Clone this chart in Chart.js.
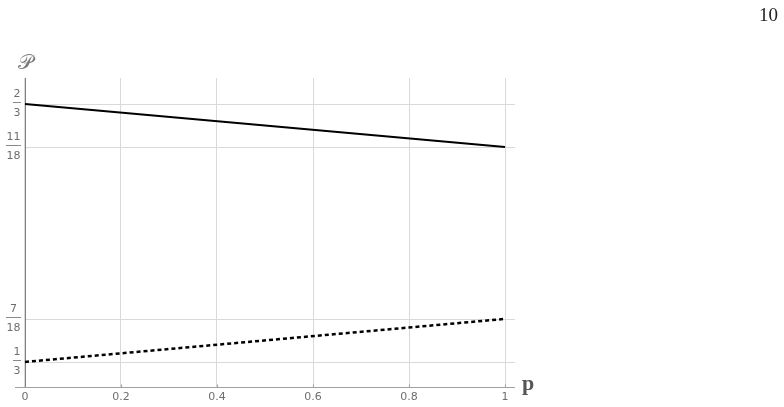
<!DOCTYPE html>
<html>
<head>
<meta charset="utf-8">
<script src="https://cdn.jsdelivr.net/npm/chart.js@4"></script>
<style>
html,body{margin:0;padding:0;background:#fff;}
#c{display:block;}
</style>
</head>
<body>
<canvas id="c" width="784" height="407"></canvas>
<script>
// ---- data ----
const xValues = [0, 1];
const solidValues = [2/3, 11/18];
const dashedValues = [1/3, 7/18];
const xTicks = [0, 0.2, 0.4, 0.6, 0.8, 1];
const xTickLabels = ['0', '0.2', '0.4', '0.6', '0.8', '1'];
const yTicks = [1/3, 7/18, 11/18, 2/3];
const yTickNum = ['1', '7', '11', '2'];
const yTickDen = ['3', '18', '18', '3'];
const pageNumber = '10';
const yAxisTitle = '\u{1D4AB}';
const xAxisTitle = 'p';

const GRID = '#d9d9d9';
const LABEL = '#6e6e6e';

const decor = {
  id: 'decor',
  beforeDatasetsDraw(chart) {
    const ctx = chart.ctx;
    const xs = chart.scales.x, ys = chart.scales.y;
    const a = chart.chartArea;
    const x0 = xs.getPixelForValue(0);
    ctx.save();
    // horizontal grid lines
    ctx.strokeStyle = GRID;
    ctx.lineWidth = 1;
    yTicks.forEach(v => {
      const py = Math.round(ys.getPixelForValue(v)) + 0.5;
      ctx.beginPath(); ctx.moveTo(x0, py); ctx.lineTo(a.right, py); ctx.stroke();
    });
    // x axis line
    ctx.strokeStyle = '#a0a0a0';
    const pyb = Math.round(a.bottom) + 0.5;
    ctx.beginPath(); ctx.moveTo(a.left, pyb); ctx.lineTo(a.right, pyb); ctx.stroke();
    // x tick marks
    xTicks.forEach(v => {
      const px = Math.round(xs.getPixelForValue(v)) + 0.5;
      ctx.beginPath(); ctx.moveTo(px, pyb - 3); ctx.lineTo(px, pyb); ctx.stroke();
    });
    // y axis line
    ctx.strokeStyle = '#808080';
    const px0 = Math.round(x0) + 0.5;
    ctx.beginPath(); ctx.moveTo(px0, a.top); ctx.lineTo(px0, a.bottom); ctx.stroke();
    // y tick labels (fractions)
    ctx.font = '11px "DejaVu Sans", Verdana, sans-serif';
    ctx.fillStyle = LABEL;
    ctx.textAlign = 'center';
    ctx.textBaseline = 'middle';
    yTicks.forEach((v, i) => {
      const py = ys.getPixelForValue(v);
      const w = Math.max(ctx.measureText(yTickNum[i]).width, ctx.measureText(yTickDen[i]).width) + 1;
      const right = 21;
      const cx = right - w / 2;
      ctx.fillText(yTickNum[i], cx, py - 9.5);
      ctx.fillText(yTickDen[i], cx, py + 9);
      ctx.strokeStyle = '#8a8a8a';
      const by = Math.round(py - 1.5) + 0.5;
      ctx.beginPath(); ctx.moveTo(right - w, by); ctx.lineTo(right, by); ctx.stroke();
    });
    // x tick labels
    xTicks.forEach((v, i) => {
      ctx.fillText(xTickLabels[i], xs.getPixelForValue(v), a.bottom + 10);
    });
    ctx.restore();
  },
  afterDraw(chart) {
    const ctx = chart.ctx;
    const a = chart.chartArea;
    ctx.save();
    // axis titles
    ctx.fillStyle = '#7a7a7a';
    ctx.font = '21px "DejaVu Serif", "Noto Sans", serif';
    ctx.textAlign = 'center';
    ctx.textBaseline = 'alphabetic';
    ctx.fillText(yAxisTitle, 25, 69);
    ctx.fillStyle = '#555';
    ctx.font = 'bold 22px "Liberation Serif", serif';
    ctx.textAlign = 'left';
    ctx.fillText(xAxisTitle, a.right + 7, 390);
    // page number
    ctx.fillStyle = '#222';
    ctx.font = '19px "Liberation Serif", serif';
    ctx.textAlign = 'right';
    ctx.fillText(pageNumber, 778, 21);
    ctx.restore();
  }
};

new Chart(document.getElementById('c'), {
  type: 'scatter',
  data: {
    datasets: [
      {
        data: xValues.map((x, i) => ({x, y: solidValues[i]})),
        showLine: true, borderColor: '#000', borderWidth: 2,
        pointRadius: 0, fill: false
      },
      {
        data: xValues.map((x, i) => ({x, y: dashedValues[i]})),
        showLine: true, borderColor: '#000', borderWidth: 2.5,
        borderDash: [4, 3], pointRadius: 0, fill: false
      }
    ]
  },
  options: {
    responsive: false,
    animation: false,
    events: [],
    layout: { padding: { left: 15, right: 269, top: 78, bottom: 20 } },
    plugins: { legend: { display: false }, tooltip: { enabled: false } },
    scales: {
      x: {
        type: 'linear', min: -0.0208, max: 1.0208,
        afterBuildTicks: s => { s.ticks = xTicks.map(v => ({value: v})); },
        ticks: { display: false },
        grid: { display: true, color: GRID, drawTicks: false, lineWidth: 1 },
        border: { display: false }
      },
      y: {
        type: 'linear', min: 0.3009, max: 0.7002,
        afterBuildTicks: s => { s.ticks = yTicks.map(v => ({value: v})); },
        ticks: { display: false },
        grid: { display: false, drawTicks: false },
        border: { display: false }
      }
    }
  },
  plugins: [decor]
});
</script>
</body>
</html>
